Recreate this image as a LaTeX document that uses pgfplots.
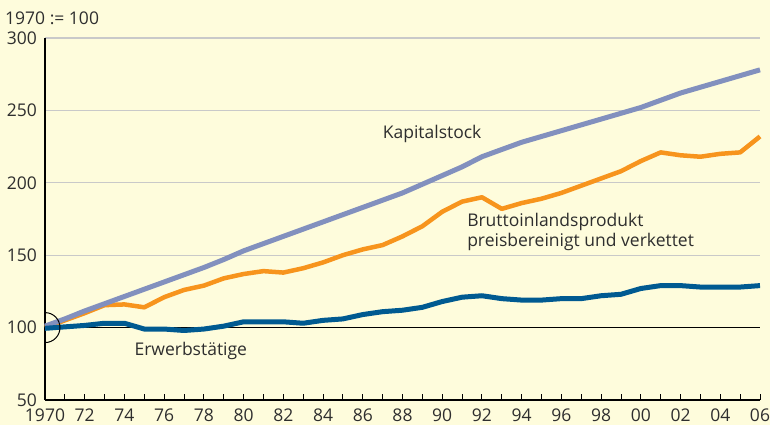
\documentclass[border=0pt]{standalone}
\usepackage{fontspec}
\setmainfont{Open Sans}
\usepackage{pgfplots}
\pgfplotsset{compat=1.18}
\definecolor{bg}{HTML}{FEFCDC}
\definecolor{kap}{HTML}{8290BE}
\definecolor{bip}{HTML}{F7941D}
\definecolor{erw}{HTML}{005A91}
\definecolor{txt}{HTML}{2E2E2E}
\definecolor{grd}{HTML}{C9C9C9}
\begin{document}
\fontsize{17.5}{19.5}\selectfont
\begin{tikzpicture}[x=1pt,y=1pt]
\fill[bg] (-45,-25) rectangle (725,400);
\begin{axis}[
  at={(0,0)}, anchor=south west,
  scale only axis, width=715pt, height=362pt,
  xmin=1970, xmax=2006, ymin=50, ymax=300,
  axis lines*=left,
  axis line style={black, line width=1.2pt},
  xtick={1970,1972,...,2006},
  xticklabels={1970,72,74,76,78,80,82,84,86,88,90,92,94,96,98,00,02,04,06},
  minor xtick={1971,1973,...,2005},
  tick align=inside,
  major tick length=6pt, minor tick length=6pt,
  xtick style={black, line width=0.9pt},
  ytick={50,100,...,300},
  ytick style={draw=none},
  ymajorgrids,
  grid style={grd, line width=1.2pt},
  tick label style={txt, font=\fontsize{17.5}{19.5}\selectfont, inner sep=0pt},
  xticklabel style={yshift=-9pt},
  yticklabel style={xshift=-8pt},
  /pgf/number format/assume math mode=true,
  /pgf/number format/1000 sep={},
  clip=false,
]
\addplot[black, line width=0.8pt] coordinates {(1970,100) (2006,100)};
\addplot[bip, line width=4.5pt, line join=round] coordinates {
(1970,100)(1971,105)(1972,110)(1973,115.5)(1974,116)(1975,114)(1976,121)(1977,126)(1978,129)(1979,134)
(1980,137)(1981,139)(1982,138)(1983,141)(1984,145)(1985,150)(1986,154)(1987,157)(1988,163)(1989,170)
(1990,180)(1991,187)(1992,190)(1993,182)(1994,186)(1995,189)(1996,193)(1997,198)(1998,203)(1999,208)
(2000,215)(2001,221)(2002,219)(2003,218)(2004,220)(2005,221)(2006,232)};
\addplot[kap, line width=5pt, line join=round] coordinates {
(1970,101)(1971,106)(1972,111.5)(1973,116.5)(1974,121.5)(1975,126.5)(1976,131.5)(1977,136.5)(1978,141.5)(1979,147)
(1980,153)(1981,158)(1982,163)(1983,168)(1984,173)(1985,178)(1986,183)(1987,188)(1988,193)(1989,199)
(1990,205)(1991,211)(1992,218)(1993,223)(1994,228)(1995,232)(1996,236)(1997,240)(1998,244)(1999,248)
(2000,252)(2001,257)(2002,262)(2003,266)(2004,270)(2005,274)(2006,278)};
\addplot[erw, line width=5pt, line join=round] coordinates {
(1970,99.5)(1971,100.5)(1972,101.5)(1973,103)(1974,103)(1975,99)(1976,99)(1977,98)(1978,99)(1979,101)
(1980,104)(1981,104)(1982,104)(1983,103)(1984,105)(1985,106)(1986,109)(1987,111)(1988,112)(1989,114)
(1990,118)(1991,121)(1992,122)(1993,120)(1994,119)(1995,119)(1996,120)(1997,120)(1998,122)(1999,123)
(2000,127)(2001,129)(2002,129)(2003,128)(2004,128)(2005,128)(2006,129)};
\draw[black, line width=1pt] ([yshift=15pt]axis cs:1970,100) arc[start angle=90, end angle=-90, radius=15pt];
\node[anchor=west, inner sep=0pt, txt] at (axis cs:1987.0,234) {Kapitalstock};
\node[anchor=west, inner sep=0pt, txt, align=left] at (axis cs:1991.25,166) {Bruttoinlandsprodukt\\preisbereinigt und verkettet};
\node[anchor=west, inner sep=0pt, txt] at (axis cs:1974.5,84) {Erwerbstätige};
\node[anchor=west, inner sep=0pt, txt] at ([xshift=-40pt,yshift=20pt]rel axis cs:0,1) {1970 := 100};
\end{axis}
\pgfresetboundingbox
\useasboundingbox (-45,-25) rectangle (725,400);
\end{tikzpicture}
\end{document}
